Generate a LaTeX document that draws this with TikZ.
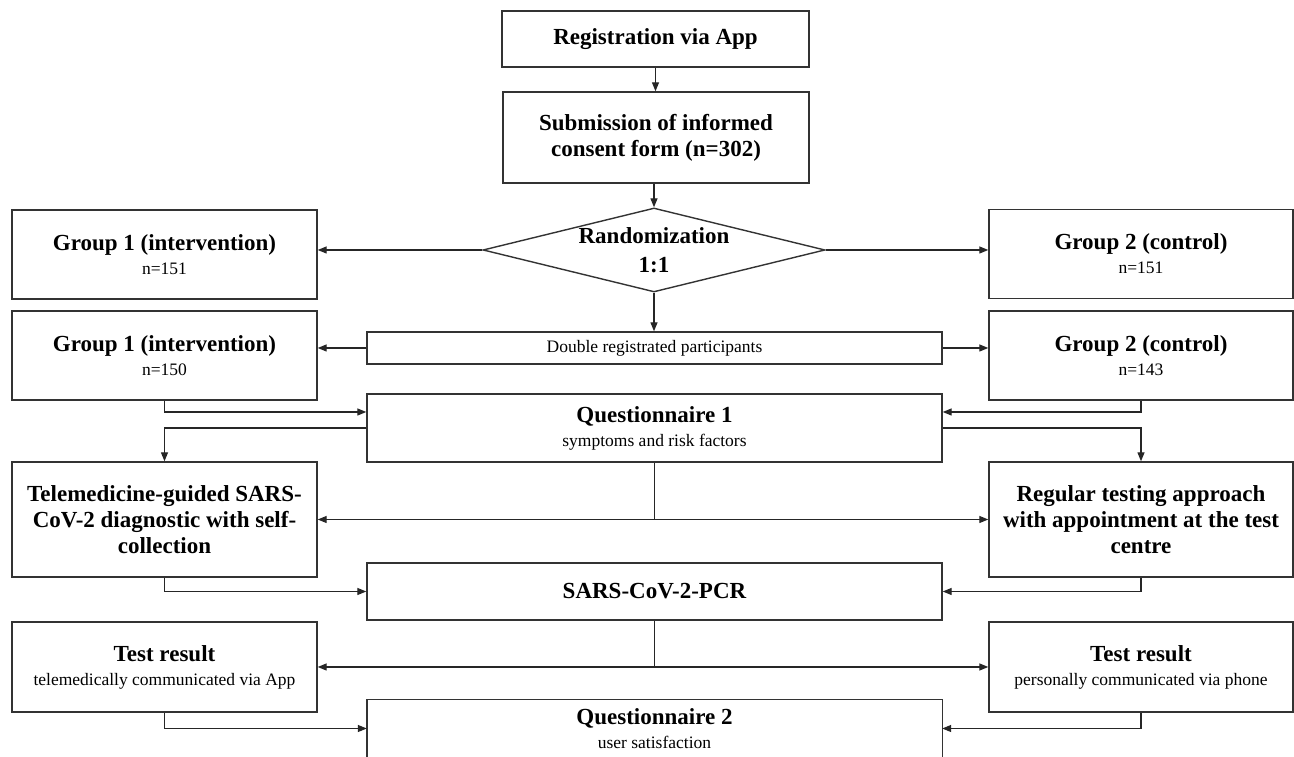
\documentclass[tikz,border=0pt]{standalone}
\usepackage{fontspec}
\setmainfont{Liberation Serif}
\usetikzlibrary{shapes.geometric,arrows.meta}
\newcommand\ttlt[1]{{\fontsize{23}{26}\selectfont\bfseries #1}}
\begin{document}
\begin{tikzpicture}[x=1pt,y=1pt,
  box/.style={draw=black!80, line width=1.4pt, rectangle, inner sep=0pt, align=center, fill=white},
  ttl/.style={font=\fontsize{23}{26}\selectfont\bfseries},
  sm/.style={font=\fontsize{17.5}{24}\selectfont},
  boxline/.style={draw=black!80, line width=1.4pt},
  conn/.style={draw=black!85, line width=1.3pt},
  arr/.style={conn, -{Triangle[length=9pt,width=7pt]}},
  arrtwo/.style={conn, {Triangle[length=9pt,width=7pt]}-{Triangle[length=9pt,width=7pt]}},
]
\useasboundingbox (0,0) rectangle (1294,757);
\fill[white] (0,0) rectangle (1294,757);
\clip (0,0) rectangle (1294,757);

\node[box, ttl, minimum width=307, minimum height=56] (reg) at (655.5,718) {Registration via App};
\node[box, ttl, minimum width=306, minimum height=91] (sub) at (656,619.5) {Submission of informed\\consent form (n=302)};
\node[draw=black!80, line width=1.4pt, diamond, aspect=4, inner sep=0pt, minimum width=342, minimum height=84, align=center, font=\fontsize{23}{29}\selectfont\bfseries] (rand) at (654,507) {\makebox[90pt][c]{Randomization}\\1:1};

\node[box, sm, minimum width=305, minimum height=89] (g1a) at (164.5,502.5) {\ttlt{Group 1 (intervention)}\\n=151};
\node[box, sm, minimum width=304, minimum height=89] (g2a) at (1141,503) {\ttlt{Group 2 (control)}\\n=151};
\node[box, sm, minimum width=305, minimum height=89] (g1b) at (164.5,401.5) {\ttlt{Group 1 (intervention)}\\n=150};
\node[box, sm, minimum width=304, minimum height=89] (g2b) at (1141,401.5) {\ttlt{Group 2 (control)}\\n=143};

\node[box, font=\fontsize{17.5}{21}\selectfont, minimum width=575, minimum height=32] (dbl) at (654.5,409) {Double registrated participants};
\node[box, sm, minimum width=575, minimum height=68] (q1) at (654.5,329) {\ttlt{Questionnaire 1}\\symptoms and risk factors};

\node[box, ttl, minimum width=305, minimum height=115] (tele) at (164.5,237.5) {Telemedicine-guided SARS-\\CoV-2 diagnostic with self-\\collection};
\node[box, ttl, minimum width=304, minimum height=115] (reg2) at (1141,237.5) {Regular testing approach\\with appointment at the test\\centre};

\node[box, ttl, minimum width=575, minimum height=57] (pcr) at (654.5,165.5) {SARS-CoV-2-PCR};

\node[box, sm, minimum width=305, minimum height=90] (tr1) at (164.5,90) {\ttlt{Test result}\\telemedically communicated via App};
\node[box, sm, minimum width=304, minimum height=90] (tr2) at (1141,90) {\ttlt{Test result}\\personally communicated via phone};

\node[sm, inner sep=0pt, align=center, minimum width=575, minimum height=57] (q2) at (654.5,28.5) {\ttlt{Questionnaire 2}\\user satisfaction};
\draw[boxline] ([yshift=-8pt]q2.south west) -- (q2.north west) -- (q2.north east) -- ([yshift=-8pt]q2.south east);

\draw[arr] (reg.south) -- (reg.south |- sub.north);
\draw[arr] (rand.north |- sub.south) -- (rand.north);
\draw[arr] (rand.west) -- (rand.west -| g1a.east);
\draw[arr] (rand.east) -- (rand.east -| g2a.west);
\draw[arr] (rand.south) -- (rand.south |- dbl.north);
\draw[arr] (dbl.west) -- (dbl.west -| g1b.east);
\draw[arr] (dbl.east) -- (dbl.east -| g2b.west);
\draw[arr] (g1b.south) |- ([yshift=16pt]q1.west);
\draw[arr] (g2b.south) |- ([yshift=16pt]q1.east);
\draw[arr] (q1.west) -| (tele.north);
\draw[arr] (q1.east) -| (reg2.north);
\draw[conn] (q1.south) -- (q1.south |- tele.east);
\draw[arrtwo] (tele.east) -- (reg2.west);
\draw[arr] (tele.south) |- (pcr.west);
\draw[arr] (reg2.south) |- (pcr.east);
\draw[conn] (pcr.south) -- (pcr.south |- tr1.east);
\draw[arrtwo] (tr1.east) -- (tr2.west);
\draw[arr] (tr1.south) |- (q2.west);
\draw[arr] (tr2.south) |- (q2.east);
\end{tikzpicture}
\end{document}
